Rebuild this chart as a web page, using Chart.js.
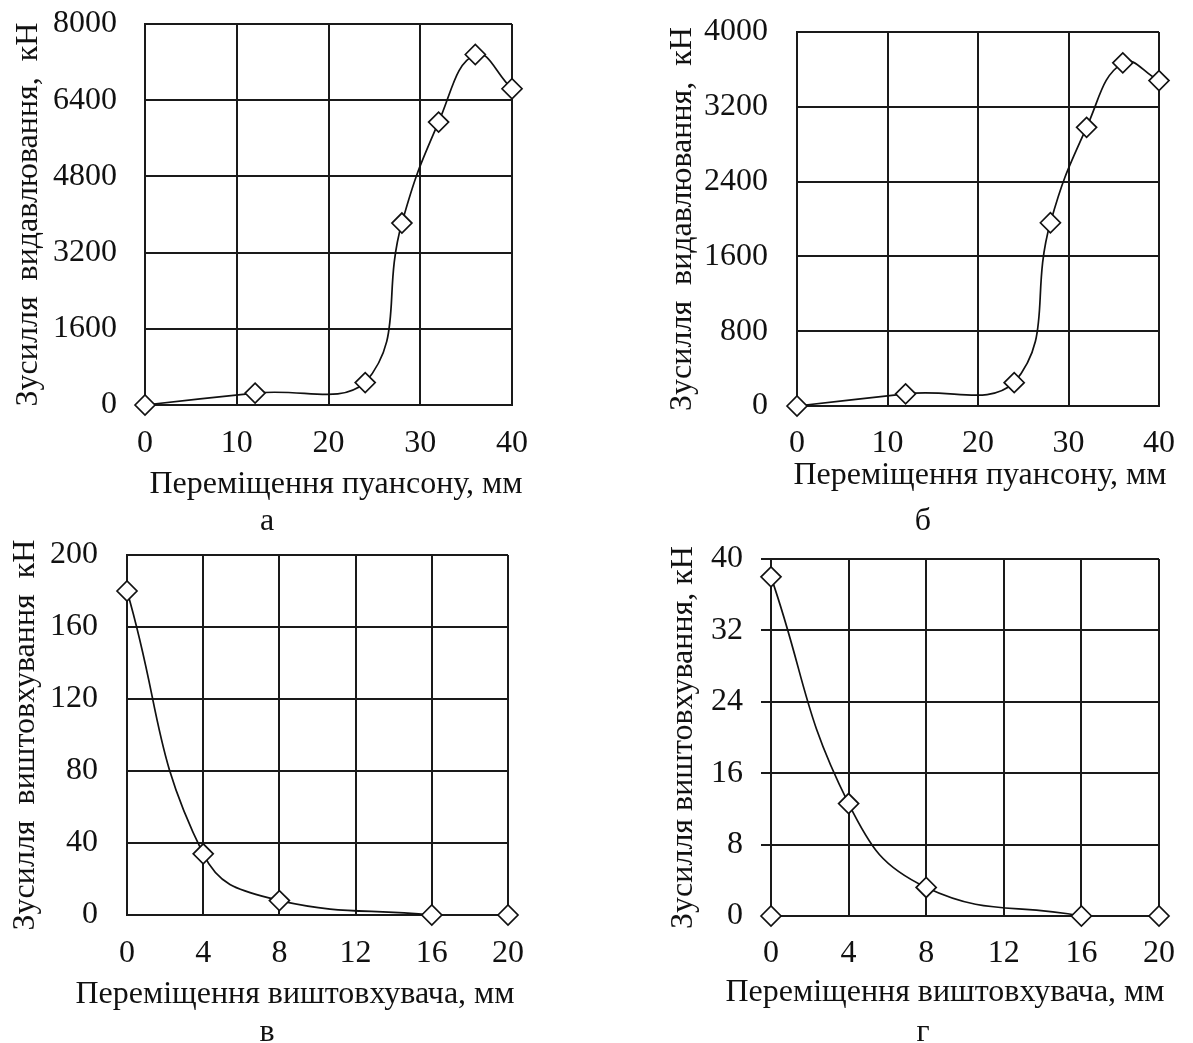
<!DOCTYPE html>
<html>
<head>
<meta charset="utf-8">
<script src="https://cdn.jsdelivr.net/npm/chart.js@4.4.0/dist/chart.umd.min.js"></script>
<style>
  html, body { margin:0; padding:0; background:#fff; width:1193px; height:1043px; overflow:hidden; position:relative; }
  canvas { position:absolute; }
  .txt { position:absolute; text-align:center; font-family:'Liberation Serif', serif; font-size:32px; line-height:32px; height:32px; color:#111; white-space:nowrap; }
  .cap { width:80px; }
  .xt { width:600px; }
</style>
</head>
<body>
<canvas id="ca" width="590" height="505" style="left:0px;top:0px"></canvas>
<canvas id="cb" width="593" height="505" style="left:600px;top:0px"></canvas>
<canvas id="cc" width="590" height="533" style="left:0px;top:510px"></canvas>
<canvas id="cd" width="593" height="533" style="left:600px;top:510px"></canvas>
<div class="txt xt" id="xta" style="left:36px;top:466px"></div>
<div class="txt xt" id="xtb" style="left:680px;top:457px"></div>
<div class="txt xt" id="xtc" style="left:-5px;top:976px"></div>
<div class="txt xt" id="xtd" style="left:645px;top:974px"></div>
<div class="txt cap" style="left:227px;top:503px">а</div>
<div class="txt cap" style="left:883px;top:503px">б</div>
<div class="txt cap" style="left:227px;top:1014px">в</div>
<div class="txt cap" style="left:883px;top:1014px">г</div>
<script>
// ---- data ----
const punchX_a = [0, 12, 24, 28, 32, 36, 40];
const force_a  = [0, 250, 470, 3820, 5940, 7360, 6640];

const punchX_b = [0, 12, 24, 28, 32, 36, 40];
const force_b  = [0, 130, 250, 1960, 2980, 3670, 3480];

const ejX_c     = [0, 4, 8, 16];
const ejForce_c = [180, 34, 8, 0];
const ejX_c_extra     = [20];
const ejForce_c_extra = [0];

const ejX_d     = [0, 4, 8, 16];
const ejForce_d = [38, 12.6, 3.2, 0];
const ejX_d_extra     = [0, 20];
const ejForce_d_extra = [0, 0];

// ---- tick labels ----
const xTicks_ab = [0, 10, 20, 30, 40];
const yTicks_a  = [0, 1600, 3200, 4800, 6400, 8000];
const yTicks_b  = [0, 800, 1600, 2400, 3200, 4000];
const xTicks_cd = [0, 4, 8, 12, 16, 20];
const yTicks_c  = [0, 40, 80, 120, 160, 200];
const yTicks_d  = [0, 8, 16, 24, 32, 40];

// ---- text ----
const xTitle_ab = 'Переміщення пуансону, мм';
const xTitle_cd = 'Переміщення виштовхувача, мм';
const yTitle_a  = 'Зусилля  видавлювання,  кН';
const yTitle_b  = 'Зусилля  видавлювання,  кН';
const yTitle_c  = 'Зусилля  виштовхування  кН';
const yTitle_d  = 'Зусилля виштовхування, кН';

document.getElementById('xta').textContent = xTitle_ab;
document.getElementById('xtb').textContent = xTitle_ab;
document.getElementById('xtc').textContent = xTitle_cd;
document.getElementById('xtd').textContent = xTitle_cd;

const FONT = "'Liberation Serif', 'Times New Roman', serif";
const INK = '#111';
const GRID = '#1a1a1a';

function pts(xs, ys) { return xs.map((v, i) => ({x: v, y: ys[i]})); }

function build(id, g, main, extra, xt, yt, yTitle) {
  const font = {family: FONT, size: 32};
  const marker = {
    pointStyle: 'rectRot', pointRadius: 10, pointHoverRadius: 10,
    pointBackgroundColor: '#fff', pointBorderColor: INK, pointBorderWidth: 1.7, clip: false
  };
  const datasets = [
    Object.assign({data: main, borderColor: INK, borderWidth: 1.7, tension: 0.45, fill: false}, marker)
  ];
  if (extra) datasets.push(Object.assign({data: extra, showLine: false, borderColor: INK}, marker));
  new Chart(document.getElementById(id), {
    type: 'line',
    data: {datasets},
    options: {
      responsive: false, animation: false, events: [],
      layout: {padding: {left: g.pl, right: g.pr, top: g.pt, bottom: g.pb}},
      plugins: {legend: {display: false}, tooltip: {enabled: false}},
      scales: {
        x: {
          type: 'linear', min: xt[0], max: xt[xt.length - 1],
          afterBuildTicks: s => { s.ticks = xt.map(v => ({value: v})); },
          afterFit: s => { s.height = g.hx; },
          grid: {color: GRID, lineWidth: 2, drawTicks: false},
          border: {color: GRID, width: 2},
          ticks: {font, color: INK, padding: g.xtp, maxRotation: 0, autoSkip: false, callback: v => String(v)}
        },
        y: {
          type: 'linear', min: yt[0], max: yt[yt.length - 1],
          afterBuildTicks: s => { s.ticks = yt.map(v => ({value: v})); },
          afterFit: s => { s.width = g.wy; },
          grid: {color: GRID, lineWidth: 2, drawTicks: true, tickLength: g.tl,
                 tickColor: g.showTick ? GRID : 'rgba(0,0,0,0)', tickWidth: 2},
          border: {color: GRID, width: 2},
          ticks: {font, color: INK, padding: g.ytp, autoSkip: false, callback: v => String(v)},
          title: {display: true, text: yTitle, font, color: INK, padding: 0}
        }
      }
    }
  });
}

build('ca', {pl: 9, wy: 136, pr: 78, pt: 24, pb: 40, hx: 60, xtp: 19, ytp: 0, tl: 28},
      pts(punchX_a, force_a), null, xTicks_ab, yTicks_a, yTitle_a);
build('cb', {pl: 63, wy: 134, pr: 20, pt: 32, pb: 39, hx: 60, xtp: 18, ytp: 0, tl: 29},
      pts(punchX_b, force_b), null, xTicks_ab, yTicks_b, yTitle_b);
build('cc', {pl: 6, wy: 121, pr: 82, pt: 45, pb: 68, hx: 60, xtp: 19, ytp: 0, tl: 29},
      pts(ejX_c, ejForce_c), pts(ejX_c_extra, ejForce_c_extra), xTicks_cd, yTicks_c, yTitle_c);
build('cd', {pl: 64, wy: 107, pr: 30, pt: 49, pb: 67, hx: 60, xtp: 18, ytp: 18, tl: 10, showTick: true},
      pts(ejX_d, ejForce_d), pts(ejX_d_extra, ejForce_d_extra), xTicks_cd, yTicks_d, yTitle_d);
</script>
</body>
</html>
